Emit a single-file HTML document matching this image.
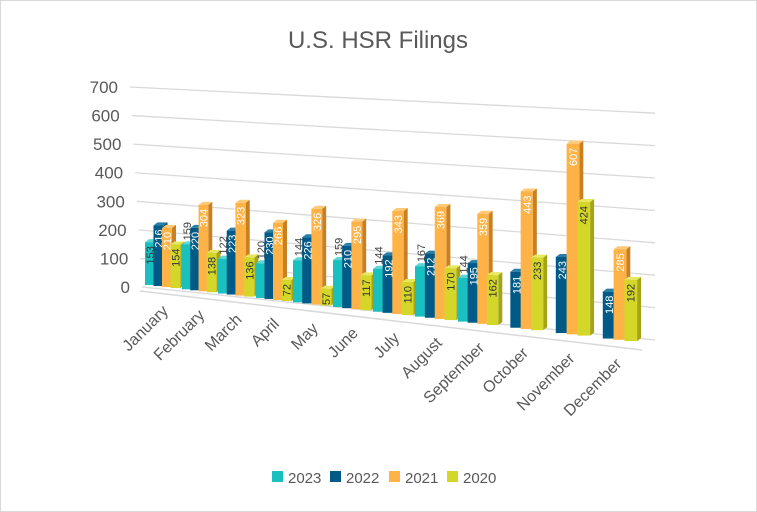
<!DOCTYPE html>
<html><head><meta charset="utf-8"><style>
body{margin:0;background:#fff}
svg{display:block;font-family:"Liberation Sans",sans-serif}
</style></head><body>
<svg id="s" width="757" height="512" viewBox="0 0 757 512" xmlns="http://www.w3.org/2000/svg">
<rect x="0.5" y="0.5" width="756" height="511" fill="#fff" stroke="#d9d9d9"/>
<text x="378" y="48" text-anchor="middle" font-size="24" fill="#595959">U.S. HSR Filings</text>
<g id="g"></g>
<g font-size="15" fill="#595959">
<rect x="272" y="471" width="11" height="11" fill="#1ABFC0"/><text x="288" y="483">2023</text>
<rect x="330" y="471" width="11" height="11" fill="#005A87"/><text x="346" y="483">2022</text>
<rect x="389" y="471" width="11" height="11" fill="#FFB347"/><text x="405" y="483">2021</text>
<rect x="447" y="471" width="11" height="11" fill="#D4D62A"/><text x="463" y="483">2020</text>
</g>
</svg>
<script>
var g=document.getElementById('g'),h='';
for(var v=0;v<=700;v+=100){
 var x1=142-v/700*12,y1=287-v*0.2857,x2=655,y2=340-v*0.324;
 h+='<line x1="'+x1+'" y1="'+y1+'" x2="'+x2+'" y2="'+y2+'" stroke="#d9d9d9" stroke-width="1.3"/>';
 h+='<text x="'+(x1-12)+'" y="'+(y1+6)+'" text-anchor="end" font-size="17" fill="#595959">'+v+'</text>';
}
h+='<line x1="140" y1="291" x2="642" y2="350" stroke="#d9d9d9" stroke-width="1.5"/>';
var gx=[145,182,218,256,293,333,373,415,458,500,545,592];
var months=['January','February','March','April','May','June','July','August','September','October','November','December'];
var D=[[153,159,122,120,144,159,144,167,144,null,null,null],
[216,220,223,230,226,210,192,212,195,181,243,148],
[210,304,323,266,326,295,343,369,359,443,607,285],
[154,138,136,72,57,117,110,170,162,233,424,192]];
var C=[['#1ABFC0','#5fd6d6','#0f9495','#333'],['#005A87','#2a7fa8','#003f60','#fff'],['#FFB347','#ffc978','#c98020','#fff'],['#D4D62A','#e6e860','#a3a515','#333']];
function base(x){return 285+(x-145)*0.117}
function k(x){return 0.28+(x-145)/495*0.04}
for(var m=0;m<12;m++){
 var sp=m<11?gx[m+1]-gx[m]:47, s=sp/37;
 for(var i=0;i<4;i++){
  var val=D[i][m]; if(val==null)continue;
  var x=gx[m]+i*8.5*s, w=10*s, b=base(x), ht=val*k(x), t=b-ht, dx=4, dy=-3;
  h+='<polygon points="'+(x+w)+','+t+' '+(x+w+dx)+','+(t+dy)+' '+(x+w+dx)+','+(b+dy)+' '+(x+w)+','+b+'" fill="'+C[i][2]+'"/>';
  h+='<polygon points="'+x+','+t+' '+(x+dx)+','+(t+dy)+' '+(x+w+dx)+','+(t+dy)+' '+(x+w)+','+t+'" fill="'+C[i][1]+'"/>';
  h+='<rect x="'+x+'" y="'+t+'" width="'+w+'" height="'+ht+'" fill="'+C[i][0]+'"/>';
  var lx=x+w/2+4, ly=t+4, col=C[i][3], anc='end';
  if(i==0&&m>0){lx=x+w/2+4;ly=t-4;anc='start';col='#404040';}
  h+='<text transform="translate('+lx+','+ly+') rotate(-90)" text-anchor="'+anc+'" font-size="11" fill="'+col+'">'+val+'</text>';
 }
 var ex=gx[m]+24*s, ey=base(ex)+24;
 h+='<text transform="translate('+ex+','+ey+') rotate(-45)" text-anchor="end" font-size="16" fill="#595959">'+months[m]+'</text>';
}
g.innerHTML=h;
</script>
</body></html>
